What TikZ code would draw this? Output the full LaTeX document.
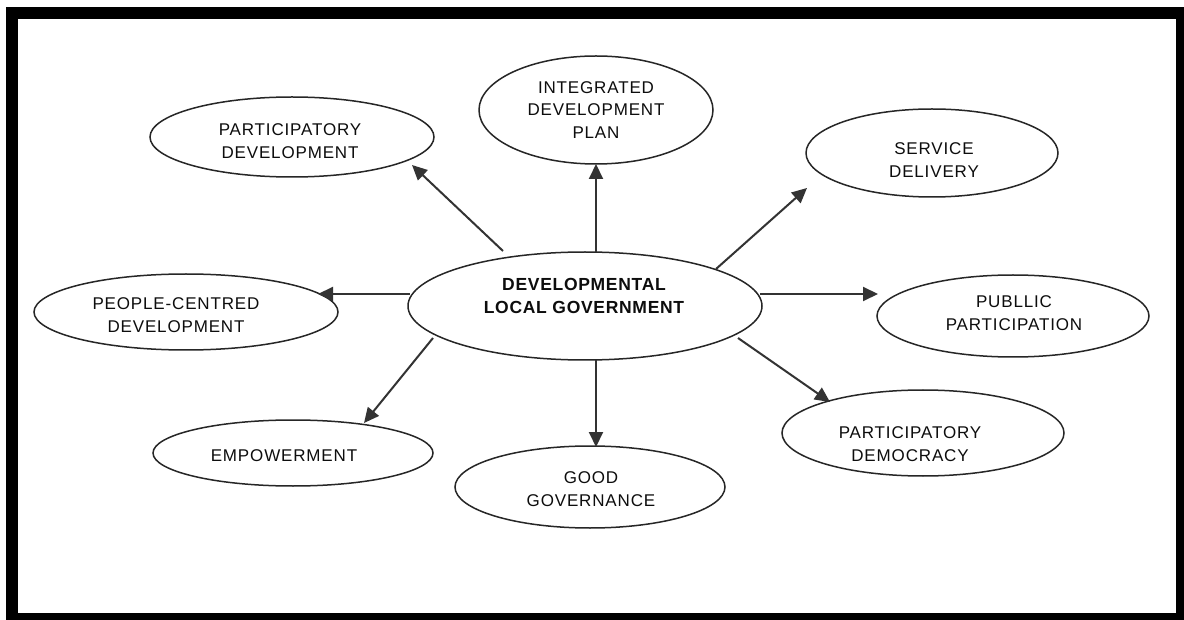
\documentclass[tikz,border=0pt]{standalone}
\usepackage{fontspec}
\setmainfont{Liberation Sans}[LetterSpace=5]
\newfontfamily\headfont{Liberation Sans}[LetterSpace=4]
\usetikzlibrary{shapes.geometric,arrows.meta,calc}
\begin{document}
\begin{tikzpicture}[x=1pt,y=-1pt,
  bubble/.style={ellipse,draw=black!85,line width=1.5pt,inner sep=0pt},
  txt/.style={align=center,inner sep=0pt,text=black!95,
    font=\fontsize{17}{22.5}\selectfont},
  bold/.style={txt,font=\headfont\fontsize{17.5}{23}\selectfont\bfseries},
  arr/.style={draw=black!80,line width=2pt,
    -{Triangle[length=15pt,width=14pt]}}]
  % canvas and thick frame
  \useasboundingbox (0,0) rectangle (1184,620);
  \fill[white] (0,0) rectangle (1184,620);
  \fill[black] (6,7) rectangle (1184,620);
  \fill[white] (18,19) rectangle (1176,613);

  % ellipses
  \node[bubble,minimum width=354pt,minimum height=108pt] (c)   at (585,306) {};
  \node[bubble,minimum width=284pt,minimum height=80pt]  (pd)  at (292,137) {};
  \node[bubble,minimum width=234pt,minimum height=108pt] (idp) at (596,110) {};
  \node[bubble,minimum width=252pt,minimum height=88pt]  (sd)  at (932,153) {};
  \node[bubble,minimum width=304pt,minimum height=76pt]  (pc)  at (186,312) {};
  \node[bubble,minimum width=272pt,minimum height=82pt]  (pp)  at (1013,316) {};
  \node[bubble,minimum width=280pt,minimum height=66pt]  (emp) at (293,453) {};
  \node[bubble,minimum width=270pt,minimum height=82pt]  (gg)  at (590,487) {};
  \node[bubble,minimum width=282pt,minimum height=86pt]  (dem) at (923,433) {};

  % labels
  \node[bold] (ctxt)   at (584,296) {DEVELOPMENTAL\\LOCAL GOVERNMENT};
  \node[txt]  (pdtxt)  at (290,141) {PARTICIPATORY\\DEVELOPMENT};
  \node[txt]  (idptxt) at (596,110) {INTEGRATED\\DEVELOPMENT\\PLAN};
  \node[txt]  (sdtxt)  at (934,160) {SERVICE\\DELIVERY};
  \node[txt]  (pctxt)  at (176,315) {PEOPLE-CENTRED\\DEVELOPMENT};
  \node[txt]  (pptxt)  at (1014,313) {PUBLLIC\\PARTICIPATION};
  \node[txt]  (emptxt) at (284,456) {EMPOWERMENT};
  \node[txt]  (ggtxt)  at (591,489) {GOOD\\GOVERNANCE};
  \node[txt]  (demtxt) at (910,444) {PARTICIPATORY\\DEMOCRACY};

  % connectors from the centre outwards
  \draw[arr] ($(c)+(-82,-55)$) -- ($(pd)+(120,28)$);
  \draw[arr] ($(c)+(11,-54)$)  -- ($(idp)+(0,54)$);
  \draw[arr] ($(c)+(131,-37)$) -- ($(sd)+(-125,35)$);
  \draw[arr] ($(c)+(-175,-12)$) -- ($(pc)+(132,-18)$);
  \draw[arr] ($(c)+(175,-12)$) -- ($(pp)+(-135,-22)$);
  \draw[arr] ($(c)+(-152,32)$) -- ($(emp)+(71,-30)$);
  \draw[arr] ($(c)+(153,32)$)  -- ($(dem)+(-93,-31)$);
  \draw[arr] ($(c)+(11,54)$)   -- ($(gg)+(6,-40)$);
\end{tikzpicture}
\end{document}
